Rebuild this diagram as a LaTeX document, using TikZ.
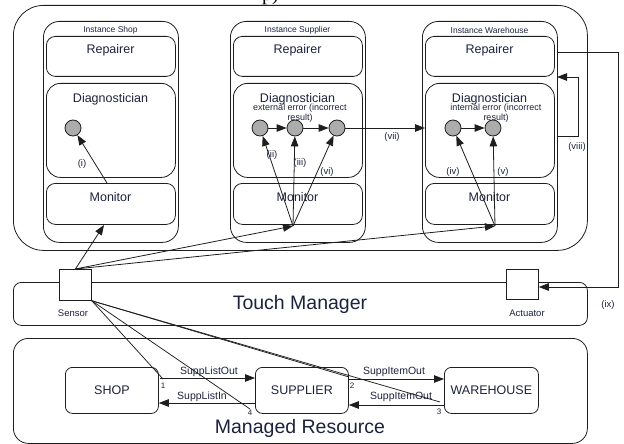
\documentclass[tikz,border=0pt]{standalone}
\usepackage{fontspec}
\setmainfont{Liberation Sans}
\newfontfamily\serifp{Liberation Serif}
\usetikzlibrary{arrows.meta}
\definecolor{txt}{RGB}{28,34,60}
\definecolor{ln}{RGB}{30,30,30}
\definecolor{circfill}{RGB}{172,172,172}
\begin{document}
\begin{tikzpicture}[x=1pt,y=-1pt,
  every node/.style={text=txt},
  rbox/.style={draw=ln, line width=0.8pt, rounded corners=#1, anchor=north west, inner sep=0pt},
  sqbox/.style={draw=ln, line width=0.8pt, fill=white, anchor=north west, inner sep=0pt},
  ball/.style={circle, draw=ln, line width=0.8pt, fill=circfill, minimum size=16pt, inner sep=0pt},
  arr/.style={-{Triangle[length=10pt,width=7.5pt]}, draw=ln, line width=0.8pt},
  cn/.style={draw=ln, line width=0.75pt},
  ttl/.style={font=\fontsize{12.5}{14}\selectfont},
  big/.style={font=\fontsize{19.5}{22}\selectfont},
  tiny/.style={font=\fontsize{8.5}{10}\selectfont},
  lab/.style={font=\fontsize{9.5}{10}\selectfont},
  msg/.style={font=\fontsize{10.5}{12}\selectfont, inner sep=1pt},
  num/.style={font=\fontsize{8}{9}\selectfont, inner sep=0pt},
  err/.style={font=\fontsize{9}{10}\selectfont, align=center, inner sep=0pt}
]
\useasboundingbox (0,0) rectangle (624,444);
\begin{scope}
\clip (0,0) rectangle (624,444);
\node[anchor=base west, inner sep=0pt, text=black, font=\serifp\fontsize{20}{22}\selectfont] (cut) at (262,1) {p)};
\end{scope}

% outer instance container
\node[rbox=30pt, minimum width=574pt, minimum height=245pt] (outer) at (13,5) {};

% instances
\foreach \nm/\x/\t in {shop/43/Instance Shop, sup/230/Instance Supplier, wh/422/Instance Warehouse}{
  \node[rbox=16pt, minimum width=135pt, minimum height=221pt] (\nm I) at (\x,21) {};
  \node[tiny, inner sep=0pt] (\nm T) at (\x+67.5,30.5) {\t};
  \node[rbox=9pt, minimum width=129pt, minimum height=40pt] (\nm R) at (\x+3,36) {};
  \node[rbox=14pt, minimum width=129pt, minimum height=94pt] (\nm D) at (\x+3,83) {};
  \node[rbox=9pt, minimum width=129pt, minimum height=41pt] (\nm M) at (\x+3,183) {};
  \node[ttl, inner sep=0pt] (\nm Rt) at (\x+67.5,50) {Repairer};
  \node[ttl, inner sep=0pt] (\nm Dt) at (\x+67.5,99) {Diagnostician};
  \node[ttl, inner sep=0pt] (\nm Mt) at (\x+67.5,197) {Monitor};
}

\node[err] (supE) at (300,113.5) {external error (incorrect\\result)};
\node[err] (whE) at (496,113.5) {internal error (incorrect\\result)};

% circles
\node[ball] (c0) at (73,128) {};
\node[ball] (s1) at (260,128) {};
\node[ball] (s2) at (295,128) {};
\node[ball] (s3) at (337,128) {};
\node[ball] (w1) at (453,128) {};
\node[ball] (w2) at (493,128) {};

\draw[arr] (s1) -- (s2);
\draw[arr] (s2) -- (s3);
\draw[arr] (w1) -- (w2);

% monitor points
\coordinate (shopMtop) at (107,183);
\coordinate (shopMin) at (104,225);
\coordinate (supMp) at (293,226);
\coordinate (whMp) at (495,226);

\draw[arr] (shopMtop) -- (c0);
\node[lab] (li) at (82,164) {(i)};
\draw[arr] (supMp) -- (s1);
\draw[arr] (supMp) -- (s2);
\draw[arr] (supMp) -- (s3);
\node[lab, inner sep=0pt] (lii) at (272,155) {(ii)};
\node[lab, inner sep=0pt] (liii) at (300,163) {(iii)};
\node[lab, inner sep=0pt] (lvi) at (327,172) {(vi)};
\draw[arr] (whMp) -- (w1);
\draw[arr] (whMp) -- (w2);
\node[lab, inner sep=0pt] (liv) at (453,172) {(iv)};
\node[lab, inner sep=0pt] (lv) at (503,172) {(v)};

% (vii)
\draw[arr] (s3) -- (s3 -| whD.west);
\node[lab, inner sep=0pt] (lvii) at (392,137) {(vii)};

% (viii)
\coordinate (v8a) at (557,136);
\coordinate (v8b) at (557,77);
\draw[arr] (v8a) -- (578,136) -- (578,77) -- (v8b);
\node[lab, inner sep=0pt] (lviii) at (577,147) {(viii)};

% Touch manager
\node[rbox=8pt, minimum width=574pt, minimum height=43pt] (tm) at (13,282) {};
\node[big, inner sep=0pt] (tmt) at (300,304) {Touch Manager};
\node[sqbox, minimum width=32pt, minimum height=31pt] (sensor) at (59,269) {};
\node[sqbox, minimum width=32pt, minimum height=30pt] (act) at (506,269) {};
\node[font=\fontsize{9.5}{11}\selectfont, inner sep=0pt] (sensT) at (73,313) {Sensor};
\node[font=\fontsize{9.5}{11}\selectfont, inner sep=0pt] (actT) at (527,313) {Actuator};

% (ix)
\coordinate (v9a) at (557,52);
\draw[arr] (v9a) -- (618,52) -- (618,287) -- (act.east |- 0,287);
\node[lab, inner sep=0pt] (lix) at (608,305) {(ix)};

% sensor up arrows
\draw[arr] (sensor.north) -- (shopMin);
\draw[arr] (sensor.north) -- (supMp);
\draw[arr] (sensor.north) -- (whMp);

% managed resource
\node[rbox=15pt, minimum width=574pt, minimum height=105pt] (mr) at (13,338) {};
\node[big, inner sep=0pt] (mrt) at (300,428) {Managed Resource};

\node[rbox=7pt, minimum width=93pt, minimum height=46pt] (shop) at (65,367) {};
\node[rbox=7pt, minimum width=93pt, minimum height=46pt] (supp) at (255,367) {};
\node[rbox=7pt, minimum width=94pt, minimum height=46pt] (ware) at (444,367) {};
\node[ttl, inner sep=0pt] at (shop.center) {SHOP};
\node[ttl, inner sep=0pt] at (supp.center) {SUPPLIER};
\node[ttl, inner sep=0pt] at (ware.center) {WAREHOUSE};

\coordinate (p1) at (160,378);
\coordinate (p4) at (255,403);
\coordinate (p2) at (349,379);
\coordinate (p3) at (444,405);
\draw[arr] (p1) -- (p1 -| supp.west);
\draw[arr] (p4) -- (p4 -| shop.east);
\draw[arr] (p2) -- (p2 -| ware.west);
\draw[arr] (p3) -- (p3 -| supp.east);
\node[msg] (m1) at (209,372) {SuppListOut};
\node[msg] (m4) at (202,397) {SuppListIn};
\node[msg] (m2) at (394,372) {SuppItemOut};
\node[msg] (m3) at (401,397) {SuppItemOut};

% sensor lines
\coordinate (e1) at (163,379);
\coordinate (e4) at (250,409);
\coordinate (e2) at (349,377);
\coordinate (e3) at (440,402);
\draw[cn] (sensor.south east) -- (e1);
\draw[cn] (sensor.south east) -- (e4);
\draw[cn] (sensor.south east) -- (e2);
\draw[cn] (sensor.south east) -- (e3);
\node[num] (n1) at (163,386) {1};
\node[num] (n4) at (250,413) {4};
\node[num] (n2) at (352,386) {2};
\node[num] (n3) at (439,412) {3};
\end{tikzpicture}
\end{document}
